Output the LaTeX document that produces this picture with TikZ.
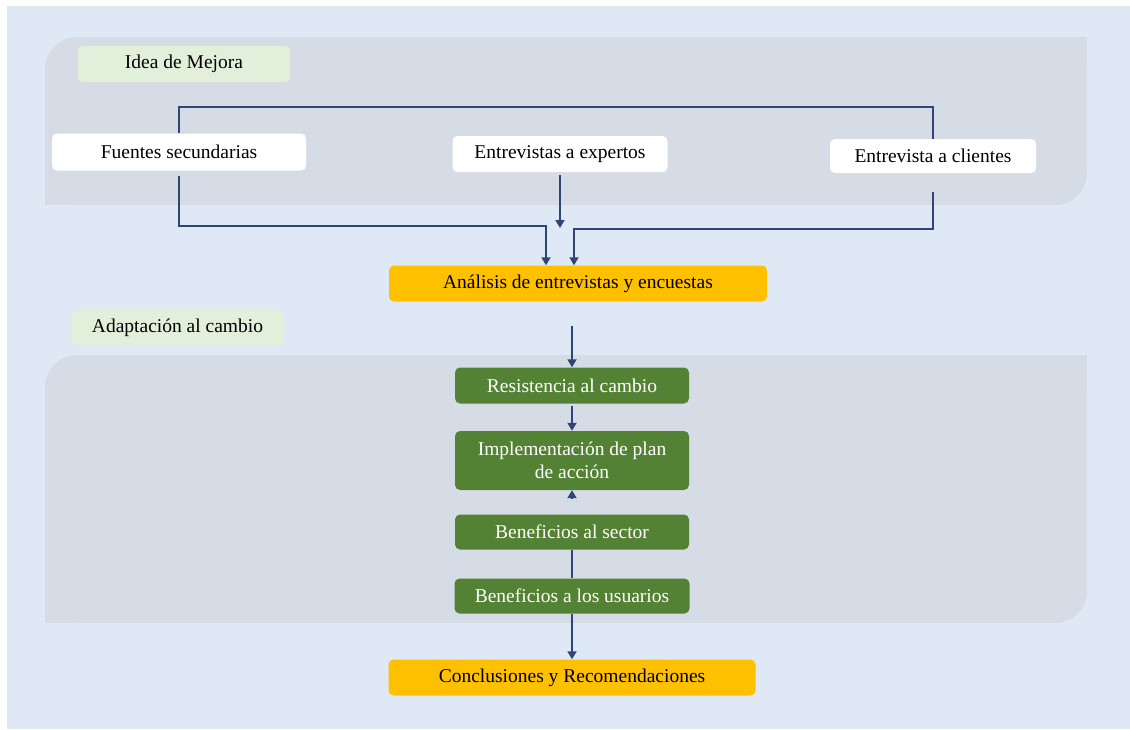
\documentclass[tikz,border=0pt]{standalone}
\usepackage{fontspec}
\setmainfont{Liberation Serif}
\definecolor{PageBlue}{RGB}{222, 233, 245}
\definecolor{PanelGray}{RGB}{214, 220, 229}
\definecolor{TagGreen}{RGB}{226, 239, 218}
\definecolor{MidGreen}{RGB}{84, 130, 53}
\definecolor{Amber}{RGB}{255, 192, 0}
\definecolor{LinkNavy}{RGB}{47, 69, 118}
\usetikzlibrary{arrows.meta, positioning}

\begin{document}
\begin{tikzpicture}[
          x=1pt, y=-1pt,
          every node/.style={font=\fontsize{19.5}{23}\selectfont, inner sep=2pt, align=center},
          tagbox/.style={rounded corners=5pt, fill=TagGreen, minimum height=36pt},
          whitebox/.style={rounded corners=5pt, fill=white, minimum height=36pt},
          amberbox/.style={rounded corners=5pt, fill=Amber, minimum height=36pt},
          greenbox/.style={rounded corners=5pt, fill=MidGreen, text=white, minimum width=234pt, minimum height=35pt},
          link/.style={line width=1.8pt, LinkNavy},
          arrow/.style={-{Triangle[length=8pt, width=9pt]}, line width=1.8pt, LinkNavy}
        ]
        \useasboundingbox (0,0) rectangle (1130,729);
        \fill[white] (0,0) rectangle (1130,729);
        \fill[PageBlue] (7,6) rectangle (1130,729);
        \fill[PanelGray, rounded corners=32pt] (45,37) rectangle (1087,205);
        \fill[PanelGray] (1047,37) rectangle (1087,77);
        \fill[PanelGray] (45,165) rectangle (85,205);
        \fill[PanelGray, rounded corners=32pt] (45,355) rectangle (1087,623);
        \fill[PanelGray] (1047,355) rectangle (1087,395);
        \fill[PanelGray] (45,583) rectangle (85,623);

        \node[tagbox, minimum width=212pt] (idea) at (184,64) {Idea de Mejora};
        \node[tagbox, minimum width=211pt] (adapt) at (177.5,328) {Adaptación al cambio};
        \node[whitebox, minimum width=254pt, minimum height=37pt] (fuentes) at (179,152) {Fuentes secundarias};
        \node[whitebox, minimum width=215pt] (expertos) at (560,154) {Entrevistas a expertos};
        \node[whitebox, minimum width=206pt, minimum height=34pt] (clientes) at (933,156) {Entrevista a clientes};
        \node[amberbox, minimum width=378pt] (analisis) at (578,283.5) {Análisis de entrevistas y encuestas};
        \node[greenbox, minimum height=36pt] (resist) at (572,385.5) {Resistencia al cambio};
        \node[greenbox, minimum height=59pt] (implem) at (572,460.5) {Implementación de plan\\de acción};
        \node[greenbox] (bsector) at (572,532) {Beneficios al sector};
        \node[greenbox, minimum width=235pt] (busuarios) at (572,596) {Beneficios a los usuarios};
        \node[amberbox, minimum width=367pt] (conclus) at (572,677.5) {Conclusiones y Recomendaciones};

        \coordinate (topy) at (0,107);
        \coordinate (j1) at (546,226);
        \coordinate (j2) at (574,229);
        \coordinate (expend) at (560,228);
        \draw[link] (fuentes.north) |- (topy -| clientes.north) -- (clientes.north);
        \draw[arrow] ([yshift=-5pt]fuentes.south) |- (j1) -- (j1 |- analisis.north);
        \draw[arrow] ([yshift=-3pt]expertos.south) -- (expertos.south |- expend);
        \draw[arrow] ([yshift=-19pt]clientes.south) |- (j2) -- (j2 |- analisis.north);
        \draw[arrow] (analisis.south -| resist.north) ++(0,24) -- (resist.north);
        \draw[arrow] ([yshift=-2pt]resist.south) -- (implem.north);
        \draw[arrow] (implem.south) ++(0,8) -- (implem.south);
        \draw[link] (bsector.south) -- (busuarios.north);
        \draw[arrow] (busuarios.south) -- (conclus.north);
      \end{tikzpicture}
\end{document}
